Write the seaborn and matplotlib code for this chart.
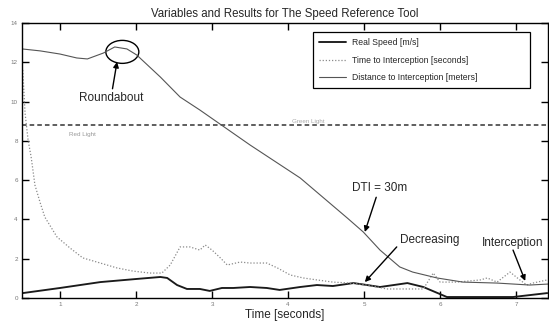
import numpy as np
import pandas as pd
import matplotlib
matplotlib.use("Agg")
import matplotlib.pyplot as plt
from matplotlib.patches import Ellipse
import seaborn as sns

# Time axis tick labels
x_ticks = [1, 2, 3, 4, 5, 6, 7]
y_ticks = [0, 2, 4, 6, 8, 10, 12, 14]

# Distance to interception (meters / 10)
dist_t = [0.50, 0.74, 1.00, 1.22, 1.36, 1.57, 1.72, 1.88, 2.01, 2.32, 2.58, 2.84,
          3.50, 4.16, 4.78, 4.99, 5.21, 5.47, 5.64, 5.96, 6.30, 6.75, 7.18, 7.42]
dist_v = [12.68, 12.58, 12.42, 12.22, 12.17, 12.47, 12.78, 12.68, 12.37, 11.25, 10.23, 9.57,
          7.79, 6.11, 4.07, 3.36, 2.44, 1.58, 1.32, 1.02, 0.81, 0.76, 0.66, 0.71]

# Time to interception (seconds)
tti_t = [0.51, 0.54, 0.58, 0.62, 0.64, 0.67, 0.74, 0.80, 0.96, 1.13, 1.30, 1.53, 1.75,
         1.96, 2.18, 2.34, 2.45, 2.58, 2.71, 2.84, 2.91, 3.00, 3.11, 3.20, 3.37, 3.50,
         3.72, 3.86, 4.03, 4.20, 4.38, 4.59, 4.82, 5.04, 5.30, 5.47, 5.78, 5.91, 6.00,
         6.22, 6.53, 6.62, 6.75, 6.92, 7.05, 7.14, 7.22, 7.41]
tti_v = [11.61, 9.42, 8.04, 7.18, 6.62, 5.75, 4.84, 4.12, 3.11, 2.55, 2.04, 1.78, 1.53,
         1.37, 1.27, 1.27, 1.68, 2.60, 2.60, 2.44, 2.70, 2.44, 2.04, 1.68, 1.83, 1.78,
         1.78, 1.53, 1.17, 1.02, 0.92, 0.81, 0.76, 0.66, 0.46, 0.46, 0.46, 1.27, 0.81,
         0.81, 0.92, 1.02, 0.81, 1.32, 0.92, 0.66, 0.76, 0.92]

# Real speed (m/s)
spd_t = [0.51, 1.00, 1.53, 2.01, 2.32, 2.41, 2.54, 2.67, 2.84, 2.97, 3.13, 3.28, 3.50,
         3.72, 3.89, 4.16, 4.38, 4.59, 4.86, 5.04, 5.21, 5.57, 5.78, 6.09, 6.53, 6.96, 7.41]
spd_v = [0.25, 0.51, 0.81, 0.97, 1.07, 1.02, 0.66, 0.46, 0.46, 0.36, 0.51, 0.51, 0.56,
         0.51, 0.41, 0.56, 0.66, 0.61, 0.76, 0.66, 0.56, 0.76, 0.56, 0.05, 0.05, 0.05, 0.25]

light_level = 8.8

labels = ["Real Speed [m/s]", "Time to Interception [seconds]",
          "Distance to Interception [meters]"]

sns.set_style("white")
plt.rcParams["font.family"] = ["Liberation Sans", "DejaVu Sans"]

fig = plt.figure(figsize=(5.49, 3.24), dpi=100)
ax = fig.add_axes([22 / 549, 1 - 298 / 324, 526 / 549, 275 / 324])

df_spd = pd.DataFrame({"t": spd_t, "v": spd_v})
df_tti = pd.DataFrame({"t": tti_t, "v": tti_v})
df_dist = pd.DataFrame({"t": dist_t, "v": dist_v})

sns.lineplot(data=df_spd, x="t", y="v", ax=ax, color="#1a1a1a", lw=1.35,
             label=labels[0], sort=False)
sns.lineplot(data=df_tti, x="t", y="v", ax=ax, color="#8a8a8a", lw=0.9,
             linestyle=(0, (1, 1.5)), label=labels[1], sort=False)
sns.lineplot(data=df_dist, x="t", y="v", ax=ax, color="#555555", lw=0.8,
             label=labels[2], sort=False)

ax.axhline(light_level, color="#333333", lw=1.1, linestyle=(0, (3, 2)), zorder=1)
ax.text(1.29, light_level - 0.5, "Red Light", fontsize=4.5, color="#999999",
        ha="center", va="center")
ax.text(4.26, light_level + 0.17, "Green Light", fontsize=4.5, color="#aaaaaa",
        ha="center", va="center")

ax.set_xlim(0.5, 7.42)
ax.set_ylim(0, 14)
ax.set_xticks(x_ticks)
ax.set_yticks(y_ticks)
ax.set_xticklabels([str(v) for v in x_ticks], fontsize=4.5, color="#777777")
ax.set_yticklabels([str(v) for v in y_ticks], fontsize=4.5, color="#777777")
ax.tick_params(direction="in", length=5, width=1.0, color="black",
               top=True, right=True, bottom=True, left=True, pad=3)
for s in ax.spines.values():
    s.set_visible(True)
    s.set_color("black")
    s.set_linewidth(1.0)

ax.set_title("Variables and Results for The Speed Reference Tool", fontsize=8.3, pad=4)
ax.set_xlabel("Time [seconds]", fontsize=8.5, labelpad=1)
ax.set_ylabel("")

arrow = dict(arrowstyle="-|>", color="black", lw=1.0, mutation_scale=8,
             shrinkA=0, shrinkB=0)
ax.annotate("Roundabout", xy=(1.75, 12.02), xytext=(1.67, 10.18), fontsize=8.5,
            ha="center", va="center", arrowprops=arrow)
ax.add_patch(Ellipse((1.82, 12.53), 0.434, 1.17, fill=False, color="black", lw=1.0))
ax.annotate("DTI = 30m", xy=(5.01, 3.36), xytext=(5.20, 5.60), fontsize=8.5,
            ha="center", va="center", arrowprops=arrow)
ax.annotate("", xy=(5.01, 0.81), xytext=(5.43, 2.6), arrowprops=arrow)
ax.text(5.86, 2.95, "Decreasing", fontsize=8.5, ha="center", va="center")
ax.annotate("", xy=(7.12, 0.87), xytext=(6.96, 2.44), arrowprops=arrow)
ax.text(6.95, 2.8, "Interception", fontsize=8.5, ha="center", va="center")

leg = ax.legend(loc="upper left", bbox_to_anchor=(0.553, 0.967, 0.413, 0.0),
                mode="expand", fontsize=6.2, handlelength=3.2, handletextpad=0.6,
                labelspacing=1.0, borderpad=0.7, fancybox=False, framealpha=1,
                borderaxespad=0)
leg.get_frame().set_edgecolor("black")
leg.get_frame().set_linewidth(0.9)

fig.savefig("out.png", dpi=100)
